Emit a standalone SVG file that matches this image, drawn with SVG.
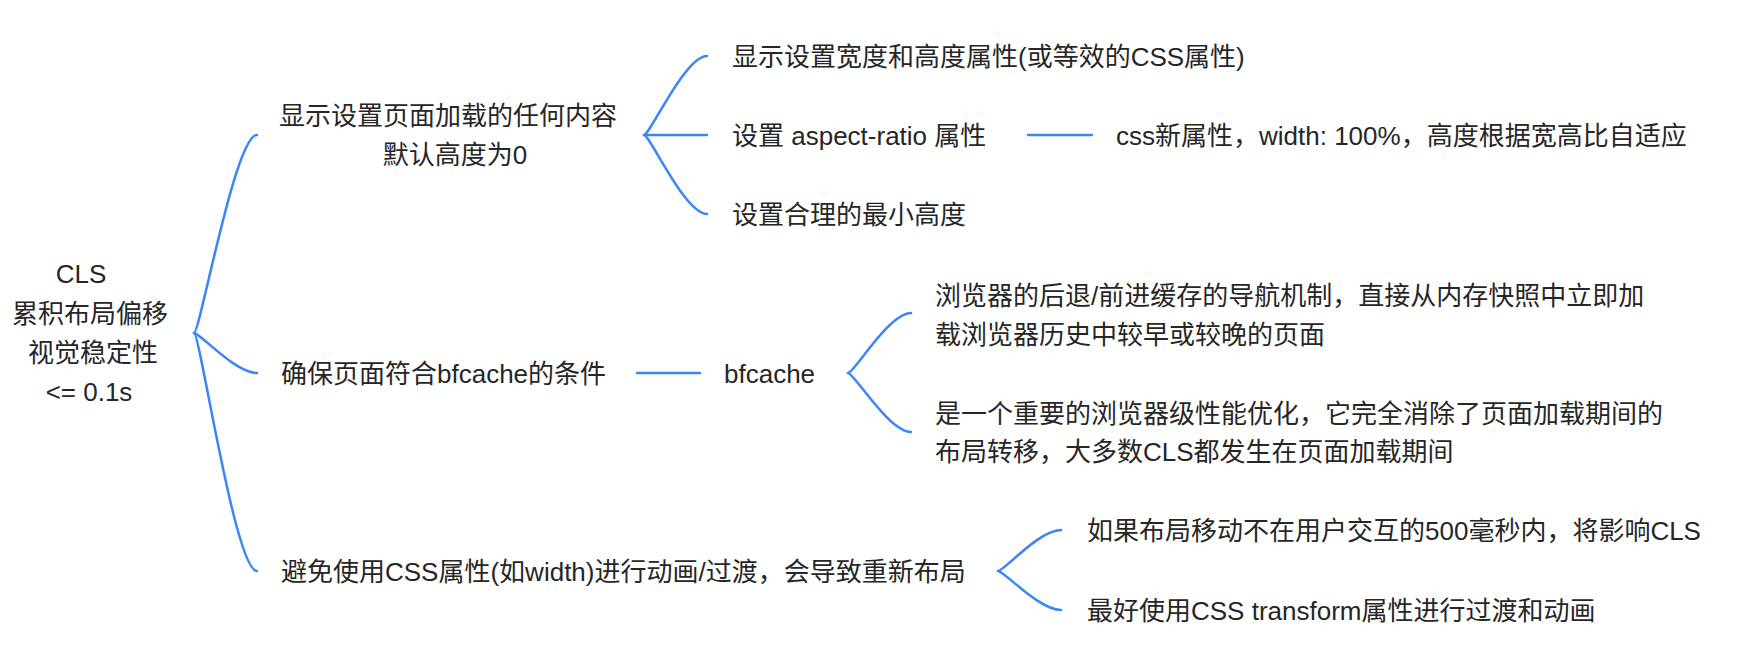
<svg xmlns="http://www.w3.org/2000/svg" width="1762" height="652" viewBox="0 0 1762 652">
<style>
  text { font-family: "Liberation Sans", "Noto Sans CJK SC", sans-serif; font-size: 26px; fill: #262626; }
  .mid { text-anchor: middle; }
  .c { fill: none; stroke: #3B86F6; stroke-width: 2.5; stroke-linecap: round; }
</style>
<rect width="1762" height="652" fill="#ffffff"/>
<g id="connectors">
  <path class="c" d="M194 333 C200 333 235 135 257 135"/>
  <path class="c" d="M194 333 C200 333 235 373 257 373"/>
  <path class="c" d="M194 333 C200 333 235 571 257 571"/>
  <path class="c" d="M644 135 C650 135 685 56 707 56"/>
  <path class="c" d="M644 135 L707 135"/>
  <path class="c" d="M644 135 C650 135 685 214 707 214"/>
  <path class="c" d="M1028 135 L1092 135"/>
  <path class="c" d="M637 373 L700 373"/>
  <path class="c" d="M848 373 C854 373 889 313 911 313"/>
  <path class="c" d="M848 373 C854 373 889 432 911 432"/>
  <path class="c" d="M998 571 C1004 571 1039 530 1061 530"/>
  <path class="c" d="M998 571 C1004 571 1039 610 1061 610"/>
</g>
<g id="root">
  <text class="mid" x="81" y="283">CLS</text>
  <text class="mid" x="90" y="323">累积布局偏移</text>
  <text class="mid" x="93" y="362">视觉稳定性</text>
  <text class="mid" x="89" y="401">&lt;= 0.1s</text>
</g>
<g id="b1">
  <text class="mid" x="448" y="125">显示设置页面加载的任何内容</text>
  <text class="mid" x="455" y="164">默认高度为0</text>
</g>
<g id="b1c1"><text x="732" y="66">显示设置宽度和高度属性(或等效的CSS属性)</text></g>
<g id="b1c2"><text x="732" y="145">设置 aspect-ratio 属性</text></g>
<g id="b1c2a"><text x="1116" y="145">css新属性，width: 100%，高度根据宽高比自适应</text></g>
<g id="b1c3"><text x="732" y="224">设置合理的最小高度</text></g>
<g id="b2"><text x="281" y="383">确保页面符合bfcache的条件</text></g>
<g id="b2a"><text x="724" y="383">bfcache</text></g>
<g id="b2a1">
  <text x="935" y="305">浏览器的后退/前进缓存的导航机制，直接从内存快照中立即加</text>
  <text x="935" y="344">载浏览器历史中较早或较晚的页面</text>
</g>
<g id="b2a2">
  <text x="935" y="423">是一个重要的浏览器级性能优化，它完全消除了页面加载期间的</text>
  <text x="935" y="461">布局转移，大多数CLS都发生在页面加载期间</text>
</g>
<g id="b3"><text x="281" y="581">避免使用CSS属性(如width)进行动画/过渡，会导致重新布局</text></g>
<g id="b3c1"><text x="1087" y="540">如果布局移动不在用户交互的500毫秒内，将影响CLS</text></g>
<g id="b3c2"><text x="1087" y="620">最好使用CSS transform属性进行过渡和动画</text></g>
</svg>
